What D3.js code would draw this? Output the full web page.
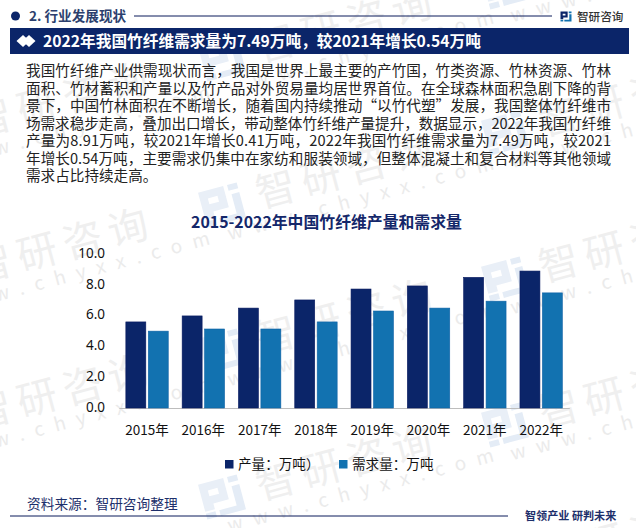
<!DOCTYPE html>
<html><head><meta charset="utf-8">
<script src="https://cdn.jsdelivr.net/npm/d3@7"></script>
<style>
html,body{margin:0;padding:0;background:#fff}
svg{display:block}
text{font-family:"Noto Sans CJK SC","Noto Sans",sans-serif}
</style></head><body><svg id="c" width="636" height="528"></svg>
<script>
const years=["2015年","2016年","2017年","2018年","2019年","2020年","2021年","2022年"];
const production=[5.60,5.99,6.50,7.03,7.74,7.94,8.50,8.91];
const demand=[5.00,5.14,5.14,5.60,6.31,6.50,6.95,7.49];
const seriesNames=["产量：万吨）","需求量：万吨"];
const yTicks=[0,2,4,6,8,10];
const paragraph=[
"我国竹纤维产业供需现状而言，我国是世界上最主要的产竹国，竹类资源、竹林资源、竹林",
"面积、竹材蓄积和产量以及竹产品对外贸易量均居世界首位。在全球森林面积急剧下降的背",
"景下，中国竹林面积在不断增长，随着国内持续推动“以竹代塑”发展，我国整体竹纤维市",
"场需求稳步走高，叠加出口增长，带动整体竹纤维产量提升，数据显示，2022年我国竹纤维",
"产量为8.91万吨，较2021年增长0.41万吨，2022年我国竹纤维需求量为7.49万吨，较2021",
"年增长0.54万吨，主要需求仍集中在家纺和服装领域，但整体混凝土和复合材料等其他领域",
"需求占比持续走高。"];
const NAVY="#0b2569",BLUE="#1272b0";
const svg=d3.select("#c");

function logoMark(g,s,c1,c2){
  g.append("path").attr("fill",c1).attr("d",`M${-10*s},${-9*s}H${3*s}V${2*s}H${-5*s}V${5*s}H${-10*s}ZM${-6*s},${-5*s}V${-2*s}H${-1*s}V${-5*s}Z`);
  g.append("rect").attr("x",-10*s).attr("y",6*s).attr("width",5*s).attr("height",3*s).attr("fill",c2);
  g.append("path").attr("fill",c2).attr("d",`M${5*s},${-9*s}H${10*s}V${-6*s}H${5*s}ZM${6*s},${-4*s}H${10*s}V${9*s}H${-3*s}V${6*s}H${6*s}Z`);
}
// watermarks
const wm=svg.append("g");
[[-62,134],[-62,280],[-62,426],[222,59],[222,205],[222,351],[222,497],[505,-13],[505,133],[505,279],[505,425],[505,571]].forEach(p=>{
  const g=wm.append("g").attr("transform",`translate(${p[0]},${p[1]}) rotate(-15)`);
  logoMark(g,2,"#e9eff7","#e4ecf6");
  g.append("text").attr("x",36).attr("y",13).attr("font-size",40).attr("letter-spacing",7).attr("fill","#efefef").text("智研咨询");
  g.append("text").attr("x",-2).attr("y",36).attr("font-size",19).attr("letter-spacing",11).attr("fill","#ebebeb").text("www.chyxx.com");
});

// header
svg.append("circle").attr("cx",15.5).attr("cy",16).attr("r",4.5).attr("fill",NAVY);
svg.append("text").attr("x",29).attr("y",21).attr("font-size",13.6).attr("font-weight",700).attr("fill","#2c3f6e").text("2. 行业发展现状");
svg.append("line").attr("x1",134).attr("x2",552).attr("y1",16).attr("y2",16).attr("stroke","#0b1a5a").attr("stroke-width",1);
logoMark(svg.append("g").attr("transform","translate(566,16.5)"),0.55,NAVY,"#1272b0");
svg.append("text").attr("x",577).attr("y",21).attr("font-size",11.6).attr("font-weight",500).attr("fill","#333").text("智研咨询");
svg.append("rect").attr("x",10).attr("y",28).attr("width",619).attr("height",26).attr("fill",NAVY);
[23,29].forEach(x=>svg.append("path").attr("d",`M${x-6.5},41L${x},35L${x+6.5},41L${x},47Z`).attr("fill","#fff"));
svg.append("text").attr("x",43).attr("y",47).attr("font-size",15.7).attr("font-weight",700).attr("fill","#fff").text("2022年我国竹纤维需求量为7.49万吨，较2021年增长0.54万吨");

// paragraph
svg.append("g").selectAll("text").data(paragraph).join("text")
  .attr("x",26).attr("y",(d,i)=>76+i*17.5).attr("font-size",14.6).attr("fill","#222")
  .each(function(d,i){ if(i<6) d3.select(this).attr("textLength",585).attr("lengthAdjust","spacing"); })
  .text(d=>d);

// chart
svg.append("text").attr("x",326.5).attr("y",227.5).attr("text-anchor","middle").attr("font-size",15.85).attr("font-weight",700).attr("fill","#14276a").text("2015-2022年中国竹纤维产量和需求量");
const x=d3.scaleBand().domain(years).range([118.9,569.3]);
const y=d3.scaleLinear().domain([0,10]).range([408,254.3]);
const inner=d3.scaleBand().domain(seriesNames).range([-21.2,21.2]).paddingInner(0.11);

const gy=svg.append("g").attr("transform","translate(105,0)").call(d3.axisLeft(y).tickValues(yTicks).tickFormat(d3.format(".1f")).tickSize(0).tickPadding(0));
gy.select(".domain").remove();
gy.selectAll("text").attr("font-size",13.5).attr("fill","#111").attr("transform","translate(0,-1.2)").style("font-family",'"Noto Sans","Noto Sans CJK SC",sans-serif');

const gx=svg.append("g").attr("transform","translate(0,408)").call(d3.axisBottom(x).tickSize(0).tickPadding(17));
gx.select(".domain").attr("stroke","#bdbdbd").attr("stroke-width",1);
gx.selectAll("text").attr("font-size",13.5).attr("fill","#111").style("font-family",'"Noto Sans CJK SC",sans-serif');

const series=[production,demand];
const fills=[NAVY,BLUE],strokes=["#081a60","#0f62a6"];
series.forEach((vals,si)=>{
  svg.append("g").selectAll("rect").data(vals).join("rect")
    .attr("x",(d,i)=>x(years[i])+x.bandwidth()/2+inner(seriesNames[si]))
    .attr("y",d=>y(d)).attr("width",inner.bandwidth()).attr("height",d=>y(0)-y(d))
    .attr("fill",fills[si]).attr("stroke",strokes[si]).attr("stroke-width",0.6);
});

// legend
const legX=[225,339];
seriesNames.forEach((n,i)=>{
  svg.append("rect").attr("x",legX[i]).attr("y",460).attr("width",8.5).attr("height",8.5).attr("fill",fills[i]);
  svg.append("text").attr("x",legX[i]+13).attr("y",469).attr("font-size",13.6).attr("fill","#111").text(n);
});

// footer
svg.append("text").attr("x",27).attr("y",509).attr("font-size",13.7).attr("fill","#1d2f6b").text("资料来源：智研咨询整理");
svg.append("line").attr("x1",10).attr("x2",508).attr("y1",516).attr("y2",516).attr("stroke","#0b1a5a").attr("stroke-width",1);
svg.append("text").attr("x",525).attr("y",519.5).attr("font-size",11.1).attr("font-weight",700).attr("fill","#1d2f6b").text("智领产业 研判未来");
</script></body></html>
